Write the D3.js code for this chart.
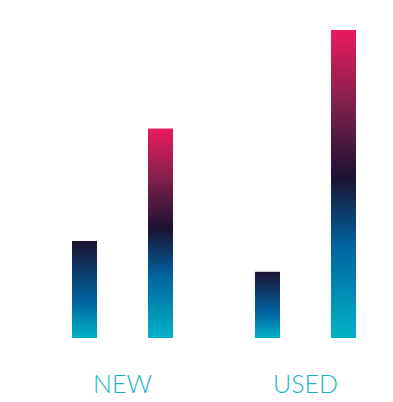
<!DOCTYPE html>
<html>
<head>
<meta charset="utf-8">
<script src="https://cdn.jsdelivr.net/npm/d3@7"></script>
<style>
  body { margin: 0; background: #fff; }
</style>
</head>
<body>
<div id="chart-area"></div>
<script>
// groups and the two bars in each
const groups = ["NEW", "USED"];
const subgroups = ["before", "after"];
const beforeValues = [31.5, 21.5];
const afterValues = [68, 100];

const width = 393, height = 402;
const baseline = 338;

const svg = d3.select("#chart-area")
    .append("svg")
        .attr("width", width)
        .attr("height", height);

const defs = svg.append("defs");

// short bars only go from teal to dark navy, tall bars run on to pink
const gradShort = defs.append("linearGradient")
    .attr("id", "grad-short")
    .attr("x1", 0).attr("y1", 1).attr("x2", 0).attr("y2", 0);
[[0, "#00b2c6"], [0.38, "#0063a0"], [1, "#1b1232"]].forEach((s) => {
    gradShort.append("stop").attr("offset", s[0]).attr("stop-color", s[1]);
});

const gradTall = defs.append("linearGradient")
    .attr("id", "grad-tall")
    .attr("x1", 0).attr("y1", 1).attr("x2", 0).attr("y2", 0);
[[0, "#00b2c6"], [0.3, "#0063a0"], [0.52, "#1b1232"], [0.76, "#80204c"], [1, "#ec1a5f"]].forEach((s) => {
    gradTall.append("stop").attr("offset", s[0]).attr("stop-color", s[1]);
});

const x = d3.scaleBand()
    .domain(groups)
    .range([72, 356])
    .paddingInner(0.448)
    .paddingOuter(0);

const xSub = d3.scaleBand()
    .domain(subgroups)
    .range([0, x.bandwidth()])
    .paddingInner(0.671)
    .paddingOuter(0);

const y = d3.scaleLinear()
    .domain([0, 100])
    .range([baseline, 30]);

const data = [];
groups.forEach((g, i) => {
    data.push({ group: g, key: "before", value: beforeValues[i] });
    data.push({ group: g, key: "after", value: afterValues[i] });
});

svg.selectAll("rect.bar")
    .data(data)
    .enter()
    .append("rect")
        .attr("class", "bar")
        .attr("x", (d) => x(d.group) + xSub(d.key))
        .attr("y", (d) => y(d.value))
        .attr("width", xSub.bandwidth())
        .attr("height", (d) => y(0) - y(d.value))
        .attr("fill", (d) => d.key === "after" ? "url(#grad-tall)" : "url(#grad-short)");

svg.selectAll("text.label")
    .data(groups)
    .enter()
    .append("text")
        .attr("class", "label")
        .attr("x", (d) => x(d) + x.bandwidth() / 2)
        .attr("y", 393)
        .attr("text-anchor", "middle")
        .attr("font-family", "Lato, 'Open Sans', sans-serif")
        .attr("font-weight", 300)
        .attr("font-size", 25)
        .attr("fill", "#1ab3c8")
        .text((d) => d);
</script>
</body>
</html>
